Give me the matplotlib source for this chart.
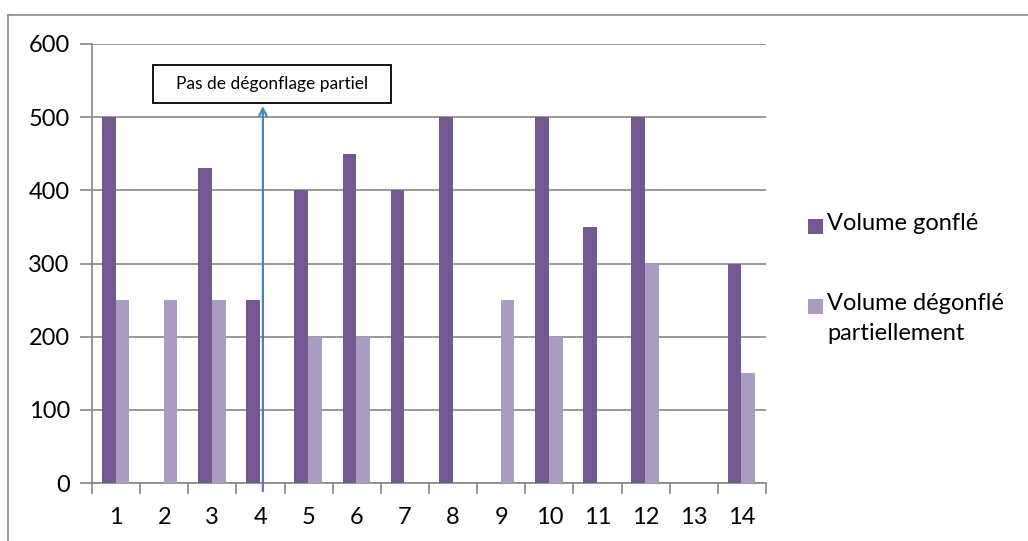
import matplotlib
matplotlib.use("Agg")
import matplotlib.pyplot as plt
from matplotlib.patches import Rectangle
from matplotlib.lines import Line2D
import numpy as np

categories = [str(i) for i in range(1, 15)]
volume_gonfle = [500, 0, 430, 250, 400, 450, 400, 500, 0, 500, 350, 500, 0, 300]
volume_degonfle = [250, 250, 250, 0, 200, 200, 0, 0, 250, 200, 0, 300, 0, 150]
series_names = ["Volume gonflé", "Volume dégonflé\npartiellement"]
annotation_text = "Pas de dégonflage partiel"

plt.rcParams['font.family'] = ['Lato', 'DejaVu Sans']

dark = "#72598F"
light = "#AA9BC3"
grid_c = "#888888"
W, H = 1028, 541

fig = plt.figure(figsize=(W/100, H/100), dpi=100)
# outer chart frame
fig.add_artist(Line2D([8/W, 8/W], [0, 1 - 14.5/H], transform=fig.transFigure, color="#8c8c8c", lw=1.2))
fig.add_artist(Line2D([8/W, 1], [1 - 14.5/H, 1 - 14.5/H], transform=fig.transFigure, color="#8c8c8c", lw=1.2))

ax = fig.add_axes([92/W, 58/H, (766-92)/W, (483-44)/H])
x = np.arange(1, len(categories) + 1)
w = 0.285
ax.bar(x - w/2 - 0.01, volume_gonfle, width=w, color=dark, zorder=3)
ax.bar(x + w/2 - 0.01, volume_degonfle, width=w, color=light, zorder=3)

ax.set_xlim(0.5, 14.5)
ax.set_ylim(0, 600)
ax.set_yticks(range(0, 601, 100))
ax.yaxis.grid(True, color=grid_c, lw=1.2, zorder=0)
ax.set_axisbelow(True)
for s in ["top", "right"]:
    ax.spines[s].set_visible(False)
for s in ["left", "bottom"]:
    ax.spines[s].set_color(grid_c)
    ax.spines[s].set_linewidth(1.2)

ax.set_xticks(np.arange(0.5, 14.6, 1.0))
ax.set_xticklabels([])
ax.set_xticks(x, minor=True)
ax.set_xticklabels(categories, minor=True)
ax.tick_params(axis="x", which="major", length=8, color=grid_c, width=1.2, direction="out")
ax.tick_params(axis="x", which="minor", length=0, pad=17, labelsize=17)
ax.tick_params(axis="y", length=9, color=grid_c, width=1.2, labelsize=17, pad=7)

# annotation box and arrow
bx0, bx1, by0, by1 = 1.765, 6.72, 519, 571
ax.add_patch(Rectangle((bx0, by0), bx1 - bx0, by1 - by0, facecolor="white", edgecolor="black", lw=1.3, zorder=6, clip_on=False))
ax.text((bx0 + bx1) / 2, (by0 + by1) / 2, annotation_text, ha="center", va="center", fontsize=12.5, zorder=7)
ax.annotate("", xy=(4.05, by0), xytext=(4.05, -15), annotation_clip=False,
            arrowprops=dict(arrowstyle="->", color="#4F81BD", lw=1.6, mutation_scale=14), zorder=5)

# legend (drawn manually so the marker aligns with the first text line)
leg_colors = [dark, light]
leg_y = [226, 306]
for name, col, yc in zip(series_names, leg_colors, leg_y):
    fig.add_artist(Rectangle((808/W, 1 - (yc + 7.5)/H), 15/W, 15/H, transform=fig.transFigure,
                             facecolor=col, edgecolor="none"))
    fig.text(827/W, 1 - (yc - 13)/H, name, ha="left", va="top", fontsize=17, linespacing=1.55)

fig.savefig("out.png", dpi=100)
